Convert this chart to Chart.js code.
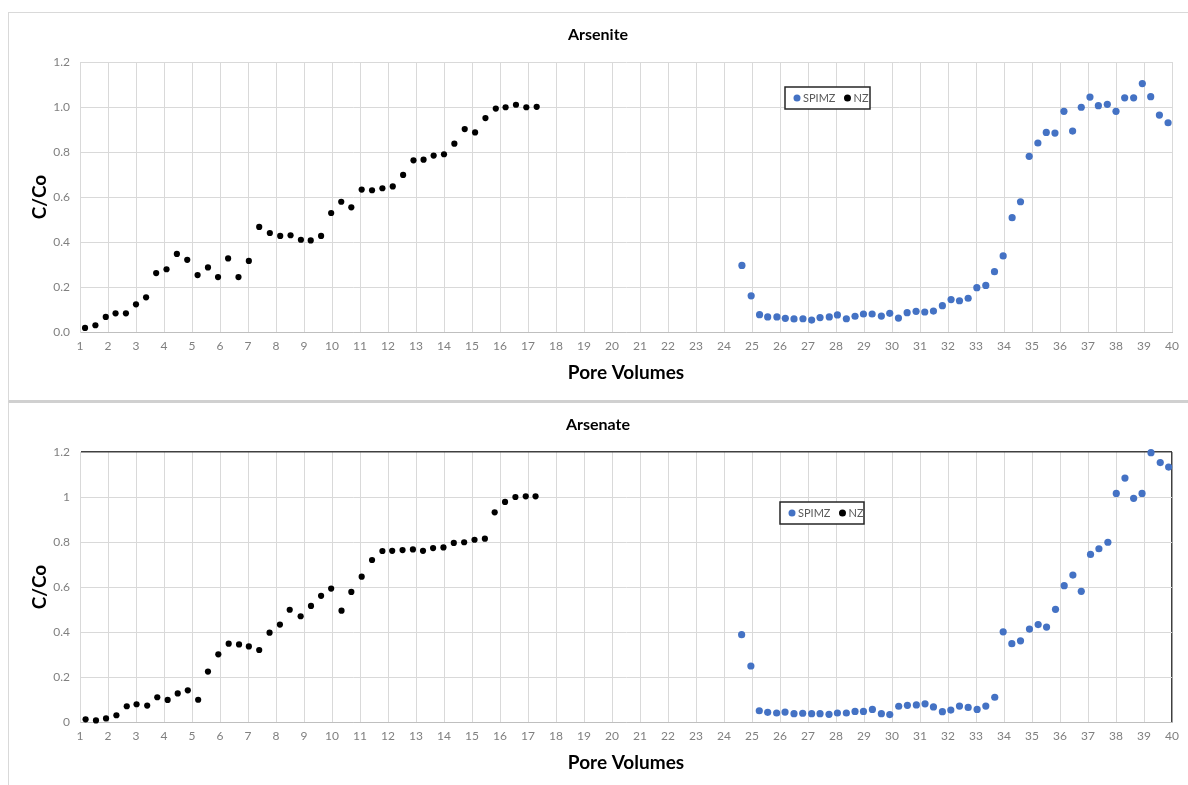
<!DOCTYPE html>
<html>
<head>
<meta charset="utf-8">
<script src="https://cdn.jsdelivr.net/npm/chart.js@4.4.1/dist/chart.umd.min.js"></script>
<style>
  html, body { margin: 0; padding: 0; background: #fff; width: 1188px; height: 785px; overflow: hidden; }
  .panel { position: absolute; left: 8px; width: 1200px; border: 1px solid #d9d9d9; box-sizing: border-box; }
  #p1 { top: 12px; height: 390px; border-bottom: 2px solid #d0d0d0; }
  #p2 { top: 401px; height: 400px; border-top: 2px solid #d0d0d0; }
  canvas { position: absolute; left: 8px; }
  #c1 { top: 12px; }
  #c2 { top: 402px; }
</style>
</head>
<body>
<div class="panel" id="p1"></div>
<div class="panel" id="p2"></div>
<canvas id="c1" width="1180" height="388"></canvas>
<canvas id="c2" width="1180" height="388"></canvas>
<script>
// ---- Data ----
const seriesNames = ['SPIMZ', 'NZ'];
const chartTitles = ['Arsenite', 'Arsenate'];

const arseniteSPIMZ_pv = [24.64,24.97,25.27,25.56,25.89,26.19,26.5,26.82,27.13,27.43,27.76,28.05,28.37,28.68,28.98,29.29,29.62,29.92,30.23,30.54,30.86,31.17,31.48,31.8,32.11,32.41,32.72,33.03,33.35,33.66,33.97,34.29,34.59,34.9,35.21,35.51,35.82,36.14,36.45,36.76,37.07,37.37,37.69,38.0,38.31,38.63,38.94,39.24,39.55,39.86];
const arseniteSPIMZ_c = [0.296,0.161,0.077,0.067,0.067,0.061,0.058,0.059,0.053,0.064,0.067,0.076,0.059,0.07,0.08,0.08,0.071,0.083,0.062,0.086,0.092,0.089,0.093,0.117,0.144,0.139,0.15,0.197,0.207,0.268,0.338,0.508,0.579,0.781,0.84,0.887,0.884,0.981,0.893,0.999,1.044,1.006,1.012,0.981,1.041,1.041,1.104,1.046,0.964,0.93];

const arseniteNZ_pv = [1.18,1.55,1.92,2.27,2.64,3.0,3.36,3.72,4.09,4.46,4.83,5.2,5.57,5.93,6.29,6.66,7.03,7.4,7.78,8.15,8.52,8.89,9.24,9.61,9.97,10.33,10.69,11.06,11.43,11.8,12.17,12.54,12.91,13.27,13.63,14.0,14.37,14.74,15.11,15.48,15.85,16.2,16.57,16.94,17.31];
const arseniteNZ_c = [0.018,0.03,0.067,0.083,0.083,0.123,0.154,0.262,0.279,0.347,0.321,0.253,0.287,0.244,0.327,0.244,0.316,0.467,0.44,0.427,0.43,0.41,0.407,0.427,0.529,0.579,0.554,0.633,0.63,0.639,0.647,0.698,0.763,0.766,0.784,0.79,0.837,0.902,0.887,0.951,0.993,0.999,1.01,0.999,1.001];

const arsenateSPIMZ_pv = [24.63,24.96,25.26,25.56,25.88,26.18,26.5,26.81,27.13,27.43,27.75,28.05,28.37,28.68,28.98,29.3,29.62,29.92,30.24,30.55,30.87,31.18,31.48,31.8,32.1,32.41,32.72,33.04,33.35,33.67,33.97,34.28,34.59,34.91,35.22,35.52,35.84,36.15,36.46,36.76,37.09,37.39,37.71,38.01,38.32,38.63,38.93,39.25,39.58,39.88];
const arsenateSPIMZ_c = [0.388,0.249,0.05,0.043,0.04,0.044,0.037,0.039,0.037,0.037,0.034,0.04,0.04,0.047,0.047,0.056,0.037,0.033,0.07,0.074,0.076,0.081,0.067,0.046,0.053,0.071,0.065,0.056,0.071,0.11,0.401,0.348,0.361,0.413,0.433,0.422,0.501,0.606,0.653,0.581,0.745,0.77,0.799,1.016,1.084,0.994,1.016,1.197,1.153,1.133];

const arsenateNZ_pv = [1.2,1.57,1.93,2.3,2.67,3.02,3.4,3.76,4.13,4.49,4.85,5.22,5.57,5.94,6.31,6.68,7.03,7.4,7.77,8.14,8.49,8.88,9.25,9.61,9.97,10.34,10.69,11.06,11.43,11.8,12.15,12.52,12.89,13.25,13.61,13.98,14.35,14.72,15.09,15.46,15.81,16.18,16.55,16.92,17.27];
const arsenateNZ_c = [0.012,0.007,0.016,0.03,0.07,0.079,0.073,0.11,0.098,0.127,0.141,0.099,0.224,0.301,0.348,0.345,0.336,0.32,0.397,0.433,0.499,0.47,0.516,0.561,0.593,0.495,0.578,0.646,0.72,0.76,0.761,0.764,0.767,0.761,0.773,0.776,0.796,0.799,0.81,0.815,0.932,0.978,1.0,1.003,1.003];

const xTitle = 'Pore Volumes';
const yTitle = 'C/Co';
const xMin = 1, xMax = 40, xStep = 1;
const yMin = 0, yMax = 1.2, yStep = 0.2;

// ---- Styling ----
Chart.defaults.font.family = 'Lato, "Open Sans", sans-serif';
const BLUE = '#4472C4';
const BLACK = '#000000';
const GRID = '#d9d9d9';
const TICK = '#808080';

const toPts = (xs, ys) => xs.map((x, i) => ({ x: x, y: ys[i] }));

const boxLegend = {
  id: 'boxLegend',
  afterDatasetsDraw(chart, args, opts) {
    const ctx = chart.ctx, a = chart.chartArea;
    const x0 = a.left + opts.dx, y0 = a.top + opts.dy, w = opts.w, h = opts.h;
    ctx.save();
    ctx.fillStyle = '#ffffff';
    ctx.fillRect(x0, y0, w, h);
    ctx.strokeStyle = '#262626';
    ctx.lineWidth = 1.5;
    ctx.strokeRect(x0, y0, w, h);
    ctx.font = '11px Lato, "Open Sans", sans-serif';
    ctx.textBaseline = 'middle';
    ctx.textAlign = 'left';
    let x = x0 + 12;
    const cy = y0 + h / 2;
    chart.data.datasets.forEach(ds => {
      ctx.fillStyle = ds.backgroundColor;
      ctx.beginPath();
      ctx.arc(x, cy, 3.5, 0, Math.PI * 2);
      ctx.fill();
      ctx.fillStyle = '#595959';
      ctx.fillText(ds.label, x + 6, cy);
      x += 6 + ctx.measureText(ds.label).width + 12;
    });
    ctx.restore();
  }
};

function makeChart(id, title, spX, spY, nzX, nzY, framed, yFmt, legendPos) {
  const isEdgeY = v => Math.abs(v - yMax) < 1e-6;
  const isEdgeX = v => Math.abs(v - xMax) < 1e-6;
  return new Chart(document.getElementById(id), {
    type: 'scatter',
    data: {
      datasets: [
        { label: seriesNames[0], data: toPts(spX, spY), backgroundColor: BLUE, borderColor: BLUE,
          pointRadius: 3.6, pointBorderWidth: 0, pointHoverRadius: 3.6, clip: false },
        { label: seriesNames[1], data: toPts(nzX, nzY), backgroundColor: BLACK, borderColor: BLACK,
          pointRadius: 3.1, pointBorderWidth: 0, pointHoverRadius: 3.1, clip: false }
      ]
    },
    options: {
      responsive: false,
      animation: false,
      devicePixelRatio: 1,
      layout: { padding: { left: 16, right: 16, top: 0, bottom: 0 } },
      plugins: {
        legend: { display: false },
        tooltip: { enabled: false },
        title: { display: true, text: title, color: '#000',
                 font: { size: 16, weight: 'bold' }, padding: { top: 13.4, bottom: 17.4 } },
        boxLegend: legendPos
      },
      scales: {
        x: {
          type: 'linear', min: xMin, max: xMax,
          afterFit: s => { s.height = 68; },
          ticks: { stepSize: xStep, autoSkip: false, maxRotation: 0, padding: 7,
                   color: TICK, font: { size: 12 } },
          grid: {
            drawTicks: false,
            color: c => (framed && c.tick && isEdgeX(c.tick.value)) ? '#404040' : GRID,
            lineWidth: c => (framed && c.tick && isEdgeX(c.tick.value)) ? 1.5 : 1
          },
          border: { color: '#bfbfbf', width: 1 },
          title: { display: true, text: xTitle, color: '#000',
                   font: { size: 19, weight: 'bold' }, padding: { top: 0, bottom: 16 } }
        },
        y: {
          min: yMin, max: yMax,
          afterFit: s => { s.width = 56; },
          ticks: { stepSize: yStep, padding: 10, color: TICK, font: { size: 12 },
                   callback: yFmt },
          grid: {
            drawTicks: false,
            color: c => (framed && c.tick && isEdgeY(c.tick.value)) ? '#404040' : GRID,
            lineWidth: c => (framed && c.tick && isEdgeY(c.tick.value)) ? 1.5 : 1
          },
          border: { color: GRID, width: 1 },
          title: { display: true, text: yTitle, color: '#000',
                   font: { size: 19, weight: 'bold' }, padding: { top: 4.6, bottom: 0 } }
        }
      }
    },
    plugins: [boxLegend]
  });
}

makeChart('c1', chartTitles[0], arseniteSPIMZ_pv, arseniteSPIMZ_c, arseniteNZ_pv, arseniteNZ_c,
  false, v => Number(v).toFixed(1), { dx: 705, dy: 25, w: 85, h: 22 });
makeChart('c2', chartTitles[1], arsenateSPIMZ_pv, arsenateSPIMZ_c, arsenateNZ_pv, arsenateNZ_c,
  true, v => String(Math.round(v * 10) / 10), { dx: 700, dy: 50, w: 84, h: 22 });
</script>
</body>
</html>
